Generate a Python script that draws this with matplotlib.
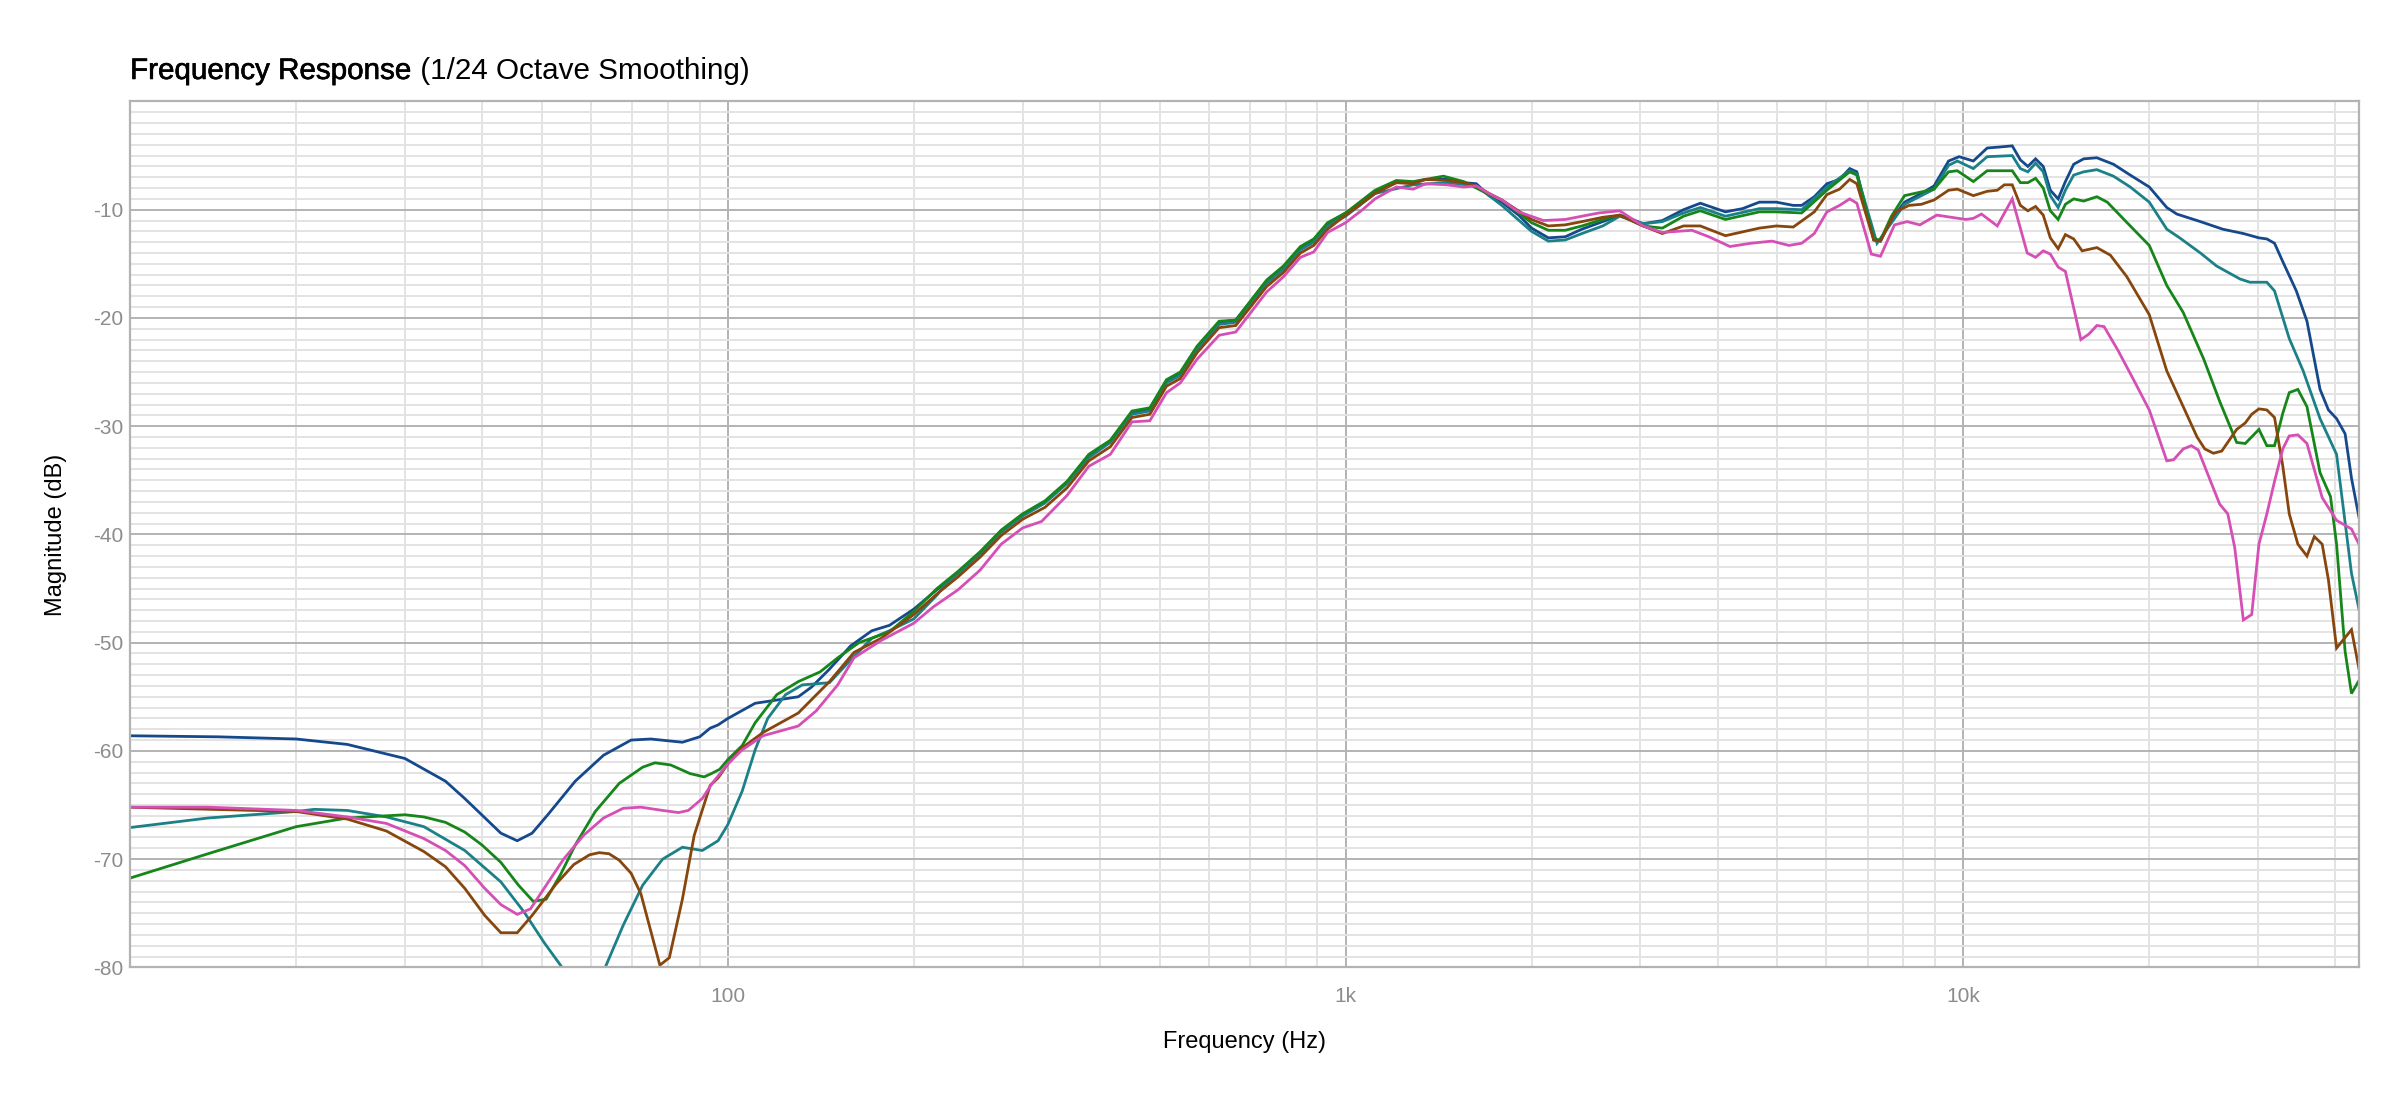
import matplotlib
matplotlib.use("Agg")
import matplotlib.pyplot as plt
import matplotlib.patheffects as pe
from matplotlib.ticker import FixedLocator, NullFormatter

plt.rcParams["font.family"] = ["Liberation Sans", "DejaVu Sans"]

# --- data (Hz, dB) ---
blue_f = [10.7, 15, 20, 24.2, 30, 34.9, 37.5, 42.9, 45.6, 48.2, 51.1, 56.6, 62.9, 69.7, 75, 84.4, 90, 93.6,
          96.4, 100, 110.7, 120, 130, 136.6, 145.7, 158, 171, 182.6, 200, 218, 236, 256, 277, 300, 326,
          354, 384, 416, 451, 482, 513, 540, 575, 624, 664, 745, 793, 845, 888, 935, 1000, 1048, 1116,
          1208, 1286, 1348, 1459, 1553, 1628, 1707, 1790, 1906, 2000, 2129, 2267, 2413, 2608, 2778, 2916,
          3030, 3257, 3524, 3752, 4120, 4390, 4676, 4981, 5305, 5474, 5738, 6014, 6305, 6548, 6724, 7161,
          7343, 7649, 8033, 8552, 8967, 9466, 9843, 10380, 10930, 11490, 12000, 12370, 12720, 13090,
          13470, 13830, 14240, 14630, 15090, 15660, 16450, 17500, 18630, 20000, 21350, 22160, 24200,
          26300, 28400, 30100, 31000, 31900, 32900, 34600, 36000, 37800, 39000, 40200, 41500, 42500, 43700]
blue_db = [-58.6, -58.7, -58.9, -59.4, -60.7, -62.8, -64.4, -67.6, -68.3, -67.6, -65.9, -62.8, -60.4, -59.0,
           -58.9, -59.2, -58.7, -57.9, -57.6, -57.0, -55.6, -55.3, -55.0, -54.1, -52.5, -50.3, -48.9, -48.4,
           -46.9, -45.1, -43.5, -41.7, -39.7, -38.2, -37.0, -35.2, -32.7, -31.4, -28.7, -28.4, -25.8, -25.1,
           -22.7, -20.4, -20.2, -16.6, -15.3, -13.5, -12.8, -11.3, -10.3, -9.7, -8.3, -7.5, -7.5, -7.2, -7.2,
           -7.5, -7.6, -8.7, -9.3, -10.5, -11.7, -12.6, -12.5, -11.8, -11.1, -10.5, -10.9, -11.3, -11.0,
           -10.0, -9.4, -10.2, -9.9, -9.3, -9.3, -9.6, -9.6, -8.8, -7.6, -7.2, -6.2, -6.5, -12.8, -12.9,
           -10.9, -9.3, -8.5, -7.8, -5.5, -5.1, -5.5, -4.3, -4.2, -4.1, -5.4, -6.0, -5.3, -6.0, -8.2, -9.0,
           -7.4, -5.8, -5.3, -5.2, -5.8, -6.8, -7.9, -9.8, -10.4, -11.1, -11.8, -12.2, -12.6, -12.7, -13.1,
           -14.8, -17.5, -20.3, -26.6, -28.5, -29.3, -30.7, -34.8, -38.4]

teal_f = [10.7, 14.4, 20, 21.4, 24.2, 28, 32.2, 37.5, 42.9, 46.8, 50.4, 53.9, 58, 63.3, 67.7, 72.8, 78.4,
          84.4, 90.9, 96.4, 100, 105.5, 110.7, 116, 124, 132, 146, 158, 171, 182.6, 200, 218, 225, 236, 256,
          277, 300, 326, 354, 384, 416, 451, 482, 513, 540, 575, 624, 664, 745, 793, 845, 888, 935, 1000,
          1116, 1286, 1459, 1628, 1790, 2000, 2129, 2267, 2413, 2608, 2778, 3030, 3257, 3524, 3752, 4120,
          4676, 4981, 5474, 6014, 6548, 6724, 7249, 8033, 8967, 9466, 9779, 10380, 10930, 12000, 12370,
          12720, 13090, 13470, 13830, 14240, 14630, 15090, 15660, 16450, 17500, 18630, 20000, 21350, 22400,
          24200, 25700, 28050, 29100, 31000, 31900, 33700, 35500, 37800, 40200, 42500, 43700]
teal_db = [-67.1, -66.2, -65.6, -65.4, -65.5, -66.1, -67.0, -69.2, -72.1, -74.9, -77.7, -80.0, -84.0, -80.0,
           -76.1, -72.4, -70.0, -68.9, -69.2, -68.3, -66.8, -63.7, -59.9, -57.0, -54.8, -53.9, -53.7, -51.6,
           -49.6, -48.9, -47.8, -45.6, -44.6, -43.6, -41.8, -39.8, -38.3, -37.1, -35.3, -32.9, -31.5, -28.9,
           -28.6, -26.0, -25.3, -22.9, -20.6, -20.4, -16.8, -15.5, -13.7, -13.0, -11.5, -10.6, -8.5, -7.7,
           -7.5, -7.8, -9.6, -12.0, -12.9, -12.8, -12.2, -11.5, -10.6, -11.3, -11.1, -10.3, -9.8, -10.6,
           -9.9, -9.9, -10.0, -7.9, -6.4, -6.7, -13.1, -9.5, -8.1, -5.9, -5.5, -6.2, -5.1, -5.0, -6.2, -6.5,
           -5.7, -6.5, -8.7, -9.8, -8.2, -6.8, -6.5, -6.3, -6.9, -7.9, -9.3, -11.8, -12.6, -14.0, -15.2,
           -16.4, -16.7, -16.7, -17.5, -21.9, -24.9, -29.3, -32.6, -43.6, -46.9]

green_f = [10.7, 14.4, 20, 24.2, 30, 32.2, 34.9, 37.5, 40, 42.9, 45.8, 48.4, 50.8, 53.5, 56.6, 61.0, 66.7,
           72.8, 76.2, 80.8, 86.9, 91.5, 94, 97, 100, 105.5, 110.7, 120, 130, 141, 150.6, 163, 182.6, 200,
           218, 236, 256, 277, 300, 326, 354, 384, 416, 451, 482, 513, 540, 575, 624, 664, 745, 793, 845,
           888, 935, 1000, 1116, 1208, 1286, 1440, 1553, 1707, 1790, 2000, 2129, 2267, 2413, 2608, 2778,
           3030, 3257, 3524, 3752, 4120, 4676, 4981, 5474, 6014, 6548, 6724, 7161, 7343, 7649, 8033, 8967,
           9466, 9779, 10380, 10930, 12000, 12370, 12720, 13090, 13470, 13830, 14240, 14630, 15090, 15660,
           16450, 17100, 18630, 20000, 21350, 22700, 24500, 26000, 27700, 28600, 30100, 31000, 31900,
           32900, 33700, 34800, 36000, 37800, 39300, 40200, 41500, 42500, 43700]
green_db = [-71.8, -69.5, -67.0, -66.2, -65.9, -66.1, -66.6, -67.5, -68.7, -70.3, -72.4, -73.9, -73.7, -71.5,
            -68.7, -65.6, -63.0, -61.5, -61.1, -61.3, -62.1, -62.4, -62.1, -61.7, -60.8, -59.5, -57.4, -54.8,
            -53.6, -52.7, -51.4, -50.0, -49.0, -47.1, -45.0, -43.4, -41.6, -39.6, -38.1, -36.9, -35.1, -32.6,
            -31.3, -28.6, -28.3, -25.7, -25.0, -22.6, -20.3, -20.2, -16.5, -15.2, -13.4, -12.7, -11.2, -10.3,
            -8.2, -7.3, -7.4, -6.9, -7.4, -8.6, -9.1, -11.2, -11.9, -11.9, -11.5, -10.9, -10.5, -11.5, -11.7,
            -10.6, -10.1, -10.9, -10.2, -10.2, -10.3, -8.2, -6.5, -6.8, -12.7, -12.8, -10.6, -8.7, -8.1, -6.5,
            -6.4, -7.4, -6.4, -6.4, -7.5, -7.5, -7.1, -8.0, -10.1, -10.9, -9.5, -9.0, -9.2, -8.8, -9.3, -11.5,
            -13.3, -17.0, -19.5, -23.8, -27.7, -31.5, -31.6, -30.3, -31.8, -31.8, -28.8, -26.9, -26.6, -28.2,
            -34.3, -36.5, -40.9, -50.8, -54.7, -53.5]

brown_f = [10.7, 20, 24.2, 28, 32.2, 34.9, 37.5, 40.4, 42.9, 45.6, 48.2, 52.7, 56.3, 59.7, 61.9, 64.2, 66.7,
           69.7, 72.3, 77.6, 80.4, 84.4, 88.2, 93.6, 96.4, 100, 105.5, 114, 130, 146, 160, 177, 200, 218, 236,
           256, 277, 300, 326, 354, 384, 416, 451, 482, 513, 540, 575, 624, 664, 745, 793, 845, 888, 935,
           1000, 1116, 1208, 1286, 1348, 1459, 1553, 1628, 1707, 1790, 2000, 2129, 2267, 2413, 2608, 2778,
           3030, 3257, 3524, 3752, 4120, 4676, 4981, 5305, 5738, 6014, 6305, 6548, 6724, 7161, 7343, 7760,
           8170, 8552, 8967, 9466, 9779, 10380, 10930, 11350, 11650, 12000, 12370, 12720, 13090, 13470,
           13830, 14240, 14630, 15090, 15570, 16450, 17300, 18400, 20000, 21350, 22700, 23900, 24600,
           25400, 26200, 27700, 28600, 29300, 30100, 31000, 31900, 32900, 33700, 34800, 36000, 37000,
           38100, 39000, 40200, 42500, 43700]
brown_db = [-65.2, -65.6, -66.3, -67.4, -69.3, -70.7, -72.7, -75.2, -76.8, -76.8, -75.2, -72.3, -70.5, -69.6,
            -69.4, -69.5, -70.1, -71.3, -73.2, -79.8, -79.1, -73.7, -67.8, -63.2, -62.5, -61.2, -59.7, -58.3,
            -56.5, -53.6, -50.9, -49.6, -47.4, -45.5, -43.9, -42.1, -40.1, -38.6, -37.5, -35.7, -33.2, -31.9,
            -29.2, -28.9, -26.3, -25.6, -23.2, -20.9, -20.7, -17.1, -15.8, -14.0, -13.3, -11.8, -10.5, -8.5,
            -7.5, -7.6, -7.2, -7.3, -7.5, -7.8, -8.5, -9.1, -10.9, -11.5, -11.4, -11.1, -10.7, -10.5, -11.5,
            -12.2, -11.5, -11.5, -12.4, -11.7, -11.5, -11.6, -10.2, -8.6, -8.1, -7.2, -7.6, -12.8, -12.9,
            -10.2, -9.6, -9.5, -9.1, -8.2, -8.1, -8.7, -8.3, -8.2, -7.7, -7.7, -9.6, -10.1, -9.7, -10.5,
            -12.6, -13.6, -12.3, -12.7, -13.8, -13.5, -14.2, -16.2, -19.7, -24.9, -28.2, -31.0, -32.1, -32.5,
            -32.3, -30.3, -29.7, -28.9, -28.4, -28.5, -29.2, -33.7, -38.1, -40.9, -42.0, -40.2, -40.9, -44.2,
            -50.5, -48.8, -52.4]

pink_f = [10.7, 14.4, 20, 24.2, 28, 32.2, 34.9, 37.5, 40.4, 42.9, 45.6, 47.9, 50.4, 54.2, 58.4, 62.9, 67.7,
          72.3, 78.4, 83.2, 86.3, 90.9, 94.3, 100, 105.5, 114, 130, 139, 150.6, 160, 177, 200, 215, 236, 256,
          277, 300, 322, 354, 384, 416, 451, 482, 513, 540, 575, 624, 664, 745, 793, 845, 888, 935, 1000,
          1065, 1116, 1208, 1286, 1348, 1459, 1553, 1628, 1707, 1790, 1906, 2090, 2267, 2413, 2570, 2778,
          3030, 3257, 3636, 3873, 4190, 4530, 4900, 5220, 5474, 5738, 6014, 6305, 6548, 6724, 7098, 7343,
          7737, 8110, 8505, 9058, 9560, 10090, 10380, 10700, 11350, 12000, 12690, 13090, 13470, 13830,
          14240, 14630, 15500, 15960, 16450, 16900, 17800, 18900, 20000, 21350, 21900, 22700, 23400, 24000,
          26000, 26800, 27500, 28400, 29300, 30100, 31000, 31900, 32900, 33700, 34800, 36000, 38100, 40200,
          42500, 43700]
pink_db = [-65.2, -65.2, -65.5, -66.1, -66.7, -68.1, -69.2, -70.6, -72.7, -74.2, -75.1, -74.6, -72.7, -70.0,
           -67.8, -66.2, -65.3, -65.2, -65.5, -65.7, -65.5, -64.4, -63.0, -61.2, -59.9, -58.6, -57.7, -56.3,
           -53.9, -51.4, -49.8, -48.2, -46.7, -45.1, -43.3, -40.9, -39.4, -38.8, -36.4, -33.7, -32.6, -29.6,
           -29.5, -26.9, -26.0, -23.8, -21.6, -21.3, -17.6, -16.2, -14.4, -13.9, -12.1, -11.2, -10.0, -9.0,
           -7.9, -8.1, -7.6, -7.7, -7.9, -7.8, -8.5, -9.1, -10.2, -11.0, -10.9, -10.6, -10.3, -10.1, -11.5,
           -12.1, -11.9, -12.5, -13.4, -13.1, -12.9, -13.3, -13.1, -12.2, -10.2, -9.6, -9.0, -9.4, -14.1,
           -14.3, -11.4, -11.1, -11.4, -10.5, -10.7, -10.9, -10.8, -10.4, -11.5, -9.0, -14.0, -14.4, -13.8,
           -14.1, -15.3, -15.7, -22.0, -21.5, -20.7, -20.8, -23.0, -25.8, -28.5, -33.2, -33.1, -32.1, -31.8,
           -32.2, -37.2, -38.1, -41.2, -47.9, -47.4, -40.9, -38.1, -35.1, -32.1, -30.9, -30.8, -31.6, -36.6,
           -38.7, -39.5, -40.9]

series = [
    (blue_f, blue_db, "#15498c"),
    (teal_f, teal_db, "#1b8087"),
    (green_f, green_db, "#16861a"),
    (brown_f, brown_db, "#86460d"),
    (pink_f, pink_db, "#d64fb4"),
]

xticks = [100, 1000, 10000]
xtick_labels = ["100", "1k", "10k"]
yticks = [-80, -70, -60, -50, -40, -30, -20, -10, 0]
ytick_labels = ["-80", "-70", "-60", "-50", "-40", "-30", "-20", "-10", ""]

fig = plt.figure(figsize=(24, 11.09), dpi=100)
ax = fig.add_axes([0.0542, 0.1277, 0.9287, 0.7808])

for f, db, c in series:
    ax.plot(f, db, color=c, lw=2.0, solid_joinstyle="miter")

ax.set_xscale("log")
ax.set_xlim(10.77, 43700)
ax.set_ylim(-80, 0)

ax.xaxis.set_major_locator(FixedLocator(xticks))
ax.set_xticklabels(xtick_labels)
minor_x = [m * d for d in (10, 100, 1000, 10000) for m in range(2, 10)]
ax.xaxis.set_minor_locator(FixedLocator(minor_x))
ax.xaxis.set_minor_formatter(NullFormatter())
ax.set_yticks(yticks)
ax.set_yticklabels(ytick_labels)
ax.yaxis.set_minor_locator(FixedLocator(list(range(-80, 1))))

ax.grid(which="major", color="#b3b3b3", lw=1.4)
ax.grid(which="minor", color="#e3e3e3", lw=1.4)
ax.set_axisbelow(True)
for s in ax.spines.values():
    s.set_color("#b3b3b3")
    s.set_linewidth(1.6)

ax.tick_params(which="both", length=0, labelcolor="#8c8c8c", labelsize=15)
ax.tick_params(axis="y", pad=5)
ax.tick_params(axis="x", pad=14)

ax.set_xlabel("Frequency (Hz)", fontsize=17, color="black")
ax.xaxis.set_label_coords(0.5, -0.074)
ax.set_ylabel("Magnitude (dB)", fontsize=17, color="black")
ax.yaxis.set_label_coords(-0.0285, 0.5)

t1 = ax.text(0, 1.026, "Frequency Response", transform=ax.transAxes, fontsize=21.3,
             ha="left", va="baseline", color="black",
             path_effects=[pe.withStroke(linewidth=0.45, foreground="black")])
ax.annotate(" (1/24 Octave Smoothing)", xy=(1, 0), xycoords=t1, fontsize=21.3,
            ha="left", va="bottom", color="black")

fig.savefig("out.png", dpi=100)
